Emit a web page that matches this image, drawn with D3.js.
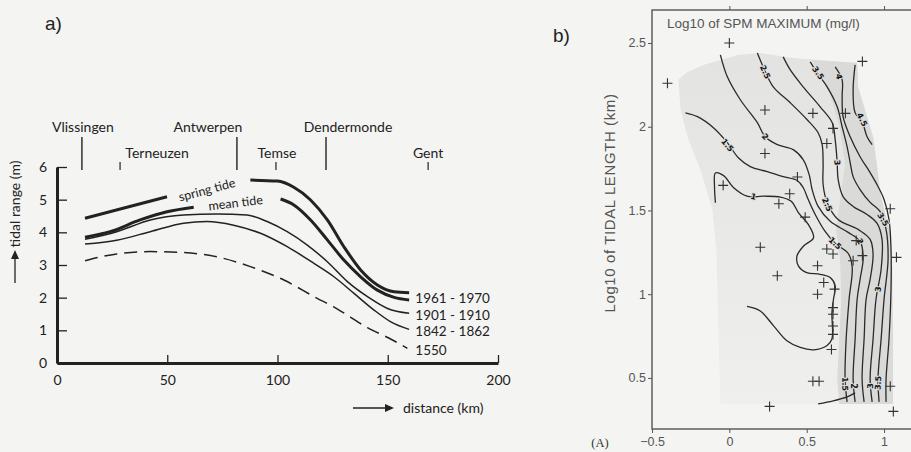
<!DOCTYPE html>
<html>
<head>
<meta charset="utf-8">
<script src="https://cdn.jsdelivr.net/npm/d3@7/dist/d3.min.js"></script>
<style>
  body { margin: 0; background: #f4f4f2; }
  svg { display: block; }
</style>
</head>
<body>
<svg id="fig" width="911" height="452"></svg>
<script>
// ---------- a) tidal range (m) along the Scheldt, distance (km) ----------
const springTide1 = [[12.7, 4.43], [31.7, 4.77], [49.9, 5.09]];
const springTide2 = [[87.7, 5.6], [99.9, 5.57], [107.4, 5.38], [115, 4.99], [122.6, 4.38],
  [130.1, 3.56], [137.7, 2.85], [145.3, 2.39], [152.9, 2.18], [159.7, 2.15]];
const meanTide1 = [[12.7, 3.85], [24.1, 4.02], [37.7, 4.38], [49.9, 4.63], [62, 4.77]];
const meanTide2 = [[101.4, 5.02], [107.4, 4.84], [115, 4.38], [122.6, 3.77], [130.1, 3.15],
  [137.7, 2.64], [145.3, 2.23], [152.9, 2.01], [159.7, 1.93]];
const range1901 = [[12.7, 3.79], [27.1, 4.02], [42.3, 4.38], [57.4, 4.53], [72.6, 4.56],
  [86.2, 4.53], [95.3, 4.33], [104.4, 4.02], [113.5, 3.61], [122.6, 3.1], [131.7, 2.49],
  [140.8, 2.03], [149.9, 1.67], [159.7, 1.52]];
const range1842 = [[12.7, 3.64], [27.1, 3.76], [42.3, 4.02], [57.4, 4.28], [68, 4.33],
  [80.1, 4.22], [92.3, 3.97], [104.4, 3.56], [116.5, 3.05], [125.6, 2.64], [134.7, 2.13],
  [143.8, 1.62], [151.4, 1.26], [159.7, 1.03]];
const range1550 = [[12.7, 3.13], [27.1, 3.34], [42.3, 3.41], [57.4, 3.38], [72.6, 3.25],
  [87.7, 2.95], [102.9, 2.54], [118, 1.98], [125.5, 1.72], [133.2, 1.4], [140.8, 1.08],
  [150, 0.78], [158.9, 0.45]];

const periodLabels = ["1961 - 1970", "1901 - 1910", "1842 - 1862", "1550"];
const periodEnds = [2.04, 1.52, 1.03, 0.45];

const places = ["Vlissingen", "Terneuzen", "Antwerpen", "Temse", "Dendermonde", "Gent"];
const placeKm = [11.3, 28.6, 81.6, 99.3, 122, 168.3];
const placeRow = [0, 1, 0, 1, 0, 1];

const xTicksA = [0, 50, 100, 150, 200];
const yTicksA = [0, 1, 2, 3, 4, 5, 6];

// ---------- b) log10 SPM maximum contours over log10 tidal length ----------
const xTicksB = [-0.5, 0, 0.5, 1];
const yTicksB = [0.5, 1, 1.5, 2, 2.5];

const c10 = [[-0.09, 1.546], [-0.096, 1.645], [-0.09, 1.724], [-0.037, 1.708], [0.028, 1.635],
  [0.114, 1.585], [0.22, 1.585], [0.33, 1.58], [0.4, 1.555], [0.447, 1.486], [0.51, 1.417],
  [0.544, 1.337], [0.48, 1.288], [0.437, 1.228], [0.447, 1.168], [0.5, 1.129], [0.587, 1.119],
  [0.652, 1.099], [0.684, 1.05], [0.673, 0.97], [0.663, 0.891], [0.663, 0.732], [0.63, 0.692],
  [0.544, 0.668], [0.458, 0.682], [0.372, 0.722], [0.286, 0.811], [0.2, 0.9], [0.114, 0.927]];
const c10low = [[0.574, 0.345], [0.671, 0.363], [0.761, 0.387], [0.813, 0.411]];
const c15 = [[-0.284, 2.083], [-0.206, 2.06], [-0.103, 1.994], [-0.013, 1.905], [0.058, 1.815],
  [0.135, 1.762], [0.245, 1.732], [0.348, 1.702], [0.439, 1.679], [0.477, 1.637], [0.51, 1.565],
  [0.555, 1.476], [0.619, 1.375], [0.684, 1.304], [0.768, 1.244], [0.794, 1.161], [0.774, 0.97],
  [0.755, 0.732], [0.748, 0.494], [0.761, 0.357]];
const c20 = [[-0.058, 2.429], [-0.013, 2.298], [0.071, 2.161], [0.181, 2.024], [0.232, 1.94],
  [0.31, 1.893], [0.413, 1.863], [0.477, 1.804], [0.516, 1.714], [0.535, 1.625], [0.574, 1.524],
  [0.652, 1.435], [0.768, 1.369], [0.845, 1.315], [0.865, 1.22], [0.845, 1.089], [0.826, 0.97],
  [0.813, 0.732], [0.8, 0.494], [0.813, 0.357]];
const c25 = [[0.181, 2.44], [0.219, 2.357], [0.284, 2.238], [0.394, 2.143], [0.503, 2.042],
  [0.574, 1.964], [0.6, 1.893], [0.606, 1.774], [0.606, 1.655], [0.632, 1.548], [0.703, 1.446],
  [0.832, 1.387], [0.91, 1.327], [0.929, 1.238], [0.91, 1.089], [0.884, 0.97], [0.871, 0.732],
  [0.858, 0.494], [0.871, 0.357]];
const c30 = [[0.348, 2.417], [0.394, 2.339], [0.477, 2.238], [0.587, 2.119], [0.665, 2.024],
  [0.684, 1.923], [0.697, 1.786], [0.703, 1.685], [0.735, 1.583], [0.8, 1.524], [0.89, 1.476],
  [0.955, 1.423], [0.987, 1.327], [0.981, 1.149], [0.948, 0.97], [0.929, 0.732], [0.91, 0.494],
  [0.923, 0.357]];
const c35 = [[0.523, 2.387], [0.568, 2.321], [0.632, 2.238], [0.697, 2.119], [0.729, 2.0],
  [0.761, 1.881], [0.781, 1.786], [0.8, 1.702], [0.845, 1.625], [0.91, 1.548], [0.974, 1.494],
  [1.013, 1.387], [1.026, 1.208], [1.0, 0.97], [0.981, 0.732], [0.961, 0.494], [0.968, 0.357]];
const c40 = [[0.684, 2.357], [0.729, 2.28], [0.729, 2.179], [0.735, 2.06], [0.781, 1.94],
  [0.845, 1.821], [0.91, 1.726], [0.961, 1.643], [1.0, 1.565], [1.032, 1.446], [1.045, 1.268],
  [1.045, 1.03], [1.032, 0.732], [1.013, 0.494], [1.013, 0.357]];
const c45 = [[0.813, 2.369], [0.8, 2.22], [0.813, 2.083], [0.858, 2.03], [0.89, 1.94], [0.923, 1.893]];

const contourLines = [c10, c10low, c15, c20, c25, c30, c35, c40, c45];

// contour labels: [text, contour index, x, y]
const contourLabels = [
  ["1", 0, 0.155, 1.583],
  ["1.5", 2, -0.013, 1.89], ["1.5", 2, 0.684, 1.304], ["1.5", 2, 0.748, 0.464],
  ["2", 3, 0.232, 1.94], ["2", 3, 0.845, 1.315], ["2", 3, 0.803, 0.452],
  ["2.5", 4, 0.232, 2.327], ["2.5", 4, 0.632, 1.536],
  ["3", 5, 0.697, 1.786], ["3", 5, 0.961, 1.03], ["3", 5, 0.91, 0.452],
  ["3.5", 6, 0.574, 2.321], ["3.5", 6, 0.994, 1.446], ["3.5", 6, 0.961, 0.47],
  ["4", 7, 0.71, 2.3], ["4.5", 8, 0.858, 2.042]
];

// data stations
const stationX = [0.0, -0.4, 0.86, 0.23, 0.54, 0.75, 0.67, 0.63, 0.23, 0.44, -0.04, 0.39, 0.32,
  0.49, 1.04, 0.2, 0.63, 0.67, 0.8, 0.86, 1.08, 0.82, 0.31, 0.57, 0.61, 0.57, 0.68, 0.67, 0.67,
  0.67, 0.67, 0.66, 0.54, 0.58, 0.26, 1.04, 1.06];
const stationY = [2.5, 2.26, 2.39, 2.1, 2.08, 2.08, 1.99, 1.9, 1.84, 1.7, 1.65, 1.6, 1.54,
  1.46, 1.51, 1.28, 1.27, 1.24, 1.2, 1.23, 1.22, 1.32, 1.11, 1.17, 1.07, 1.0, 1.03, 0.92, 0.88,
  0.81, 0.76, 0.67, 0.48, 0.48, 0.33, 0.45, 0.3];

// shaded area of the interpolated field, and its darker part
const shadeOuter = [[-0.329, 2.28], [-0.271, 2.327], [-0.168, 2.369], [-0.058, 2.399],
  [0.052, 2.429], [0.2, 2.44], [0.413, 2.411], [0.826, 2.381], [0.832, 2.238], [0.89, 2.06],
  [0.929, 1.94], [0.955, 1.762], [0.974, 1.607], [1.006, 1.488], [1.039, 1.369], [1.052, 1.167],
  [1.058, 0.774], [1.058, 0.345], [-0.058, 0.345], [-0.071, 0.792], [-0.084, 1.268],
  [-0.11, 1.506], [-0.187, 1.744], [-0.265, 1.923], [-0.316, 2.101]];
const shadeInner = [[0.535, 2.399], [0.652, 2.19], [0.716, 1.982], [0.748, 1.774], [0.716, 1.565],
  [0.69, 1.387], [0.716, 1.208], [0.723, 0.97], [0.71, 0.732], [0.697, 0.494], [0.71, 0.345],
  [1.058, 0.345], [1.058, 0.774], [1.052, 1.167], [1.039, 1.369], [1.006, 1.488], [0.974, 1.607],
  [0.955, 1.762], [0.929, 1.94], [0.89, 2.06], [0.832, 2.238], [0.826, 2.381]];

// ======================================================================
const svg = d3.select("#fig");
const ink = "#222";
const sansA = "Lato, 'Open Sans', sans-serif";
const sansB = "'Liberation Sans', Arial, sans-serif";

svg.append("text").attr("x", 45).attr("y", 30).attr("font-family", sansB)
  .attr("font-size", 19).attr("fill", ink).text("a)");
svg.append("text").attr("x", 553).attr("y", 42).attr("font-family", sansB)
  .attr("font-size", 19).attr("fill", ink).text("b)");

// ---------------- panel a ----------------
const xA = d3.scaleLinear().domain([0, 200]).range([57, 498]);
const yA = d3.scaleLinear().domain([0, 6]).range([363, 167]);
const gA = svg.append("g");

const styleAxisA = (g) => {
  g.attr("font-family", sansA).attr("font-size", 14);
  g.select(".domain").attr("stroke", ink).attr("stroke-width", 3);
  g.selectAll(".tick line").attr("stroke", ink).attr("stroke-width", 1.3);
  g.selectAll(".tick text").attr("fill", ink);
};

gA.append("g")
  .attr("transform", `translate(0,${yA(0)})`)
  .call(d3.axisBottom(xA).tickValues(xTicksA).tickSize(-8).tickSizeOuter(0).tickPadding(12)
    .tickFormat(String))
  .call(styleAxisA);
gA.append("g")
  .attr("transform", `translate(${xA(0)},0)`)
  .call(d3.axisLeft(yA).tickValues(yTicksA).tickSize(-10).tickSizeOuter(0).tickPadding(10)
    .tickFormat(String))
  .call(styleAxisA);

// axis titles with arrows
const arrowHead = (g, x, y, dir) => {
  const p = dir === "right" ? [[x, y], [x - 9, y - 4], [x - 9, y + 4]] : [[x, y], [x - 4, y + 9], [x + 4, y + 9]];
  g.append("path").attr("d", "M" + p.join("L") + "Z").attr("fill", ink);
};
gA.append("line").attr("x1", 353).attr("x2", 386).attr("y1", 408).attr("y2", 408)
  .attr("stroke", ink).attr("stroke-width", 1.3);
arrowHead(gA, 394, 408, "right");
gA.append("text").attr("x", 403).attr("y", 413).attr("font-family", sansA)
  .attr("font-size", 14).attr("fill", ink).text("distance (km)");

gA.append("line").attr("x1", 15).attr("x2", 15).attr("y1", 283).attr("y2", 258)
  .attr("stroke", ink).attr("stroke-width", 1.3);
arrowHead(gA, 15, 250, "up");
gA.append("text").attr("transform", "translate(20,204) rotate(-90)")
  .attr("text-anchor", "middle").attr("font-family", sansA).attr("font-size", 14)
  .attr("fill", ink).text("tidal range (m)");

// stations along the estuary
const labelDx = [1, 37, -29, 1, 22, 0];
places.forEach((name, i) => {
  const x = xA(placeKm[i]);
  const long = placeRow[i] === 0;
  gA.append("line").attr("x1", x).attr("x2", x)
    .attr("y1", long ? yA(6) - 30 : yA(6) - 5).attr("y2", yA(6) + 3)
    .attr("stroke", ink).attr("stroke-width", long ? 1.4 : 1.2);
  gA.append("text").attr("x", x + labelDx[i]).attr("y", long ? 132 : 158)
    .attr("text-anchor", "middle").attr("font-family", sansA).attr("font-size", 14)
    .attr("fill", ink).text(name);
});

// curves
const lineA = d3.line().x((d) => xA(d[0])).y((d) => yA(d[1])).curve(d3.curveMonotoneX);
const curvesA = [
  { d: springTide1, w: 3 }, { d: springTide2, w: 3 },
  { d: meanTide1, w: 3 }, { d: meanTide2, w: 3 },
  { d: range1901, w: 1.5 }, { d: range1842, w: 1.5 },
  { d: range1550, w: 1.5, dash: "13,7" }
];
gA.selectAll("path.curve").data(curvesA).join("path")
  .attr("class", "curve")
  .attr("d", (c) => lineA(c.d))
  .attr("fill", "none").attr("stroke", ink)
  .attr("stroke-width", (c) => c.w)
  .attr("stroke-dasharray", (c) => c.dash || null);

gA.append("text").attr("transform", `translate(${xA(68)},${yA(5.3)}) rotate(-15)`)
  .attr("text-anchor", "middle").attr("dy", "0.35em").attr("font-family", sansA)
  .attr("font-size", 12.5).attr("fill", ink).text("spring tide");
gA.append("text").attr("transform", `translate(${xA(81)},${yA(4.9)}) rotate(-7)`)
  .attr("text-anchor", "middle").attr("dy", "0.35em").attr("font-family", sansA)
  .attr("font-size", 12.5).attr("fill", ink).text("mean tide");

periodLabels.forEach((t, i) => {
  gA.append("text").attr("x", xA(162.5)).attr("y", yA(periodEnds[i]) + 2)
    .attr("dy", "0.35em").attr("font-family", sansA).attr("font-size", 13.5)
    .attr("fill", ink).text(t);
});

// ---------------- panel b ----------------
const xB = d3.scaleLinear().domain([-0.5, 1.2]).range([652, 915]);
const yB = d3.scaleLinear().domain([0.195, 2.697]).range([429, 10]);
const gB = svg.append("g");
const grey = "#555";

// the shaded field fades towards the bottom left
const grad = svg.append("defs").append("linearGradient").attr("id", "fade")
  .attr("x1", 0).attr("y1", 0).attr("x2", 0).attr("y2", 1);
grad.append("stop").attr("offset", "0%").attr("stop-color", "#e3e3e2");
grad.append("stop").attr("offset", "45%").attr("stop-color", "#e8e8e7");
grad.append("stop").attr("offset", "100%").attr("stop-color", "#efefed");

const area = d3.line().x((d) => xB(d[0])).y((d) => yB(d[1])).curve(d3.curveLinearClosed);
gB.append("path").attr("d", area(shadeOuter)).attr("fill", "url(#fade)");
gB.append("path").attr("d", area(shadeInner)).attr("fill", "#dadad9");

const lineB = d3.line().x((d) => xB(d[0])).y((d) => yB(d[1])).curve(d3.curveCatmullRom.alpha(0.5));
gB.selectAll("path.contour").data(contourLines).join("path")
  .attr("class", "contour")
  .attr("d", lineB)
  .attr("fill", "none").attr("stroke", "#2a2a2a").attr("stroke-width", 1.3);

// labels follow the local direction of their contour
const localAngle = (pts, x, y) => {
  let best = 0, bd = Infinity;
  pts.forEach((p, i) => {
    const dd = (xB(p[0]) - xB(x)) ** 2 + (yB(p[1]) - yB(y)) ** 2;
    if (dd < bd) { bd = dd; best = i; }
  });
  const a = pts[Math.max(best - 1, 0)], b = pts[Math.min(best + 1, pts.length - 1)];
  let ang = Math.atan2(yB(b[1]) - yB(a[1]), xB(b[0]) - xB(a[0])) * 180 / Math.PI;
  if (ang > 90) ang -= 180;
  if (ang < -90) ang += 180;
  return ang;
};
contourLabels.forEach(([t, ci, x, y]) => {
  gB.append("text")
    .attr("transform", `translate(${xB(x)},${yB(y)}) rotate(${localAngle(contourLines[ci], x, y)})`)
    .attr("text-anchor", "middle").attr("dy", "0.35em")
    .attr("font-family", "'DejaVu Sans', sans-serif").attr("font-weight", "bold")
    .attr("font-size", 8).attr("fill", "#111")
    .attr("stroke", "#dcdcdc").attr("stroke-width", 2).attr("paint-order", "stroke")
    .text(t);
});

gB.selectAll("path.station").data(stationX).join("path")
  .attr("class", "station")
  .attr("transform", (d, i) => `translate(${xB(d)},${yB(stationY[i])})`)
  .attr("d", "M-5,0H5M0,-5V5")
  .attr("stroke", "#333").attr("stroke-width", 1.1);

// frame and axes
gB.append("rect").attr("x", xB(-0.5)).attr("y", yB(2.697))
  .attr("width", xB(1.2) - xB(-0.5)).attr("height", yB(0.195) - yB(2.697))
  .attr("fill", "none").attr("stroke", grey).attr("stroke-width", 1.4);

const styleAxisB = (g) => {
  g.attr("font-family", sansB).attr("font-size", 12.5);
  g.select(".domain").remove();
  g.selectAll(".tick line").attr("stroke", grey);
  g.selectAll(".tick text").attr("fill", grey);
};
gB.append("g").attr("transform", `translate(0,${yB(0.195)})`)
  .call(d3.axisBottom(xB).tickValues(xTicksB).tickSize(4).tickPadding(4)
    .tickFormat((d) => (d < 0 ? "\u2212" : "") + Math.abs(d)))
  .call(styleAxisB);
gB.append("g").attr("transform", `translate(0,${yB(2.697)})`)
  .call(d3.axisTop(xB).tickValues(xTicksB.slice(1)).tickSize(4).tickFormat(""))
  .call(styleAxisB);
gB.append("g").attr("transform", `translate(${xB(-0.5)},0)`)
  .call(d3.axisLeft(yB).tickValues(yTicksB).tickSize(4).tickPadding(2).tickFormat(String))
  .call(styleAxisB);

gB.append("text").attr("x", 667).attr("y", 28).attr("font-family", sansB)
  .attr("font-size", 13.5).attr("fill", grey).text("Log10 of SPM MAXIMUM (mg/l)");
gB.append("text").attr("transform", "translate(615,203) rotate(-90)")
  .attr("text-anchor", "middle").attr("font-family", sansB).attr("font-size", 15)
  .attr("letter-spacing", 0.6).attr("fill", grey).text("Log10 of TIDAL LENGTH (km)");
gB.append("text").attr("x", 600).attr("y", 447).attr("text-anchor", "middle")
  .attr("font-family", "'Liberation Serif', serif").attr("font-size", 12.5)
  .attr("fill", "#333").text("(A)");
</script>
</body>
</html>
